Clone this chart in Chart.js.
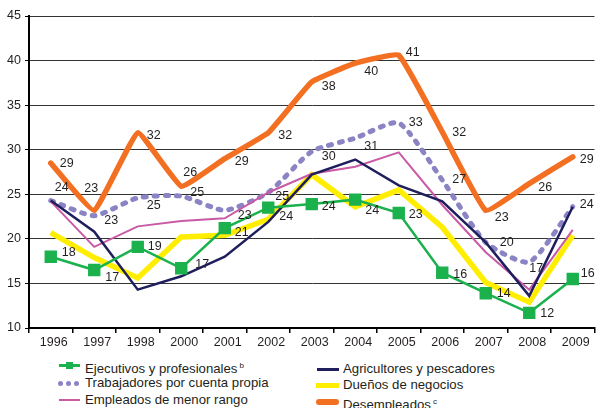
<!DOCTYPE html>
<html>
<head>
<meta charset="utf-8">
<script src="https://cdn.jsdelivr.net/npm/chart.js@4.4.1/dist/chart.umd.min.js"></script>
<style>
  body { margin: 0; width: 598px; height: 408px; overflow: hidden; background: #fff; font-family: "Liberation Sans", Arial, sans-serif; }
  #wrap { position: absolute; left: 0; top: 0; width: 604px; height: 352px; }
  .leg { position: absolute; font-size: 13.2px; color: #231f20; white-space: nowrap; line-height: 15px; }
  .leg sup { font-size: 8px; vertical-align: 5px; margin-left: 2px; }
  .mk { position: absolute; }
</style>
</head>
<body>
<div id="wrap"><canvas id="chart" width="604" height="352"></canvas></div>

<!-- legend, column 1 -->
<div class="mk" style="left:59px;top:364px;width:21px;height:3px;background:#1bb14c"></div>
<div class="mk" style="left:66px;top:362px;width:7px;height:7px;background:#1bb14c"></div>
<div class="leg" style="left:85px;top:358px">Ejecutivos y profesionales<sup>b</sup></div>
<div class="mk" style="left:58px;top:381px;width:5px;height:5px;border-radius:50%;background:#8a84c4"></div>
<div class="mk" style="left:66px;top:381px;width:5px;height:5px;border-radius:50%;background:#8a84c4"></div>
<div class="mk" style="left:74px;top:381px;width:5px;height:5px;border-radius:50%;background:#8a84c4"></div>
<div class="leg" style="left:85px;top:375px">Trabajadores por cuenta propia</div>
<div class="mk" style="left:59px;top:399px;width:21px;height:2px;background:#c85aa6"></div>
<div class="leg" style="left:85px;top:392px">Empleados de menor rango</div>

<!-- legend, column 2 -->
<div class="mk" style="left:317px;top:368px;width:22px;height:3px;background:#1f1f5e"></div>
<div class="leg" style="left:343px;top:361px">Agricultores y pescadores</div>
<div class="mk" style="left:316px;top:383px;width:23px;height:5px;background:#ffee00"></div>
<div class="leg" style="left:343px;top:377px">Dueños de negocios</div>
<div class="mk" style="left:316px;top:399px;width:23px;height:6px;border-radius:3px;background:#f36f21"></div>
<div class="leg" style="left:343px;top:394px">Desempleados<sup>c</sup></div>

<script>
// Years on the x axis
const years = ['1996', '1997', '1998', '2000', '2001', '2002', '2003', '2004', '2005', '2006', '2007', '2008', '2009'];

// Series values (percent)
const ejecutivos    = [18.0, 16.5, 19.1, 16.7, 21.2, 23.5, 23.9, 24.4, 22.9, 16.2, 13.9, 11.7, 15.5];
const trabajadores  = [24.3, 22.6, 24.6, 24.8, 23.2, 25.2, 29.8, 31.3, 33.0, 26.6, 19.6, 17.4, 23.6];
const empleados     = [24.2, 19.1, 21.4, 22.0, 22.3, 25.2, 27.3, 28.1, 29.7, 23.8, 18.5, 14.3, 21.0];
const agricultores  = [24.3, 20.8, 14.3, 15.8, 18.0, 21.9, 27.2, 28.9, 26.0, 24.2, 19.6, 13.6, 23.6];
const duenos        = [20.7, 17.9, 15.6, 20.2, 20.4, 22.2, 27.2, 23.6, 25.5, 21.3, 15.1, 12.9, 20.4];
const desempleados  = [28.5, 23.2, 31.9, 25.9, 29.0, 31.9, 37.6, 39.7, 40.6, 32.0, 23.2, 26.2, 29.2];

// y axis range
const yMin = 10;
const yMax = 45;
const yStep = 5;

// where each value label sits relative to its point [dx, dy]
const labelOffsets = {
    'Desempleados': [[9,0],[-10,-22],[9,3],[2,-14],[10,3],[10,3],[10,5],[9,8],[7,-3],[10,1],[9,7],[9,4],[7,3]],
    'Trabajadores por cuenta propia': [[4,-13],[10,5],[9,8],[9,-4],[13,5],[7,4],[10,5],[9,8],[10,0],[10,0],[14,0],[0,7],[7,-2]],
    'Ejecutivos y profesionales': [[11,-4],[11,7],[10,0],[14,-4],[10,4],[11,9],[10,2],[10,11],[10,2],[11,2],[11,0],[11,1],[8,-5]]
};

const pointLabels = {
    id: 'pointLabels',
    afterDatasetsDraw(chart) {
        const ctx = chart.ctx;
        ctx.save();
        ctx.font = '12.5px "Liberation Sans", Arial, sans-serif';
        ctx.fillStyle = '#231f20';
        ctx.textAlign = 'left';
        ctx.textBaseline = 'middle';
        chart.data.datasets.forEach((ds, i) => {
            const offs = labelOffsets[ds.label];
            if (!offs) return;
            chart.getDatasetMeta(i).data.forEach((pt, j) => {
                ctx.fillText(Math.round(ds.data[j]), pt.x + offs[j][0], pt.y + offs[j][1]);
            });
        });
        ctx.restore();
    }
};

const lineSet = (label, data, color, width, extra) => Object.assign({
    label: label,
    data: data,
    borderColor: color,
    backgroundColor: color,
    borderWidth: width,
    pointRadius: 0,
    tension: 0,
    fill: false
}, extra || {});

const ctx = document.getElementById('chart').getContext('2d');
const chart = new Chart(ctx, {
    type: 'line',
    data: {
        labels: years,
        datasets: [
            lineSet('Ejecutivos y profesionales', ejecutivos, '#1bb14c', 2.5, { pointStyle: 'rect', pointRadius: 7, order: 0 }),
            lineSet('Trabajadores por cuenta propia', trabajadores, '#8a84c4', 5, { borderDash: [3, 8], borderCapStyle: 'round', tension: 0.2, order: 4 }),
            lineSet('Empleados de menor rango', empleados, '#c85aa6', 2, { order: 2 }),
            lineSet('Agricultores y pescadores', agricultores, '#1f1f5e', 2.5, { order: 1 }),
            lineSet('Dueños de negocios', duenos, '#ffee00', 5.5, { order: 3 }),
            lineSet('Desempleados', desempleados, '#f36f21', 5.5, { borderJoinStyle: 'round', borderCapStyle: 'round', tension: 0.1, order: 5 })
        ]
    },
    options: {
        responsive: false,
        animation: false,
        layout: { padding: { top: 16, right: 3, bottom: 0, left: 0 } },
        plugins: {
            legend: { display: false },
            tooltip: { enabled: false }
        },
        scales: {
            x: {
                offset: true,
                grid: { display: true, offset: true, drawOnChartArea: false, drawTicks: true, tickLength: 5, color: '#000', lineWidth: 1.5 },
                border: { display: true, color: '#000', width: 2 },
                ticks: { color: '#231f20', font: { size: 12.5, family: '"Liberation Sans", Arial, sans-serif' }, padding: 2, labelOffset: 3, maxRotation: 0, autoSkip: false }
            },
            y: {
                min: yMin,
                max: yMax,
                afterFit: (scale) => { scale.width = 29; },
                grid: { color: '#333', borderDash: [5, 4], tickBorderDash: [], tickLength: 4, tickColor: '#000', lineWidth: 1 },
                border: { display: true, color: '#000', width: 2 },
                ticks: { stepSize: yStep, color: '#231f20', font: { size: 12.5, family: '"Liberation Sans", Arial, sans-serif' }, padding: 4 }
            }
        }
    },
    plugins: [pointLabels]
});
</script>
</body>
</html>
